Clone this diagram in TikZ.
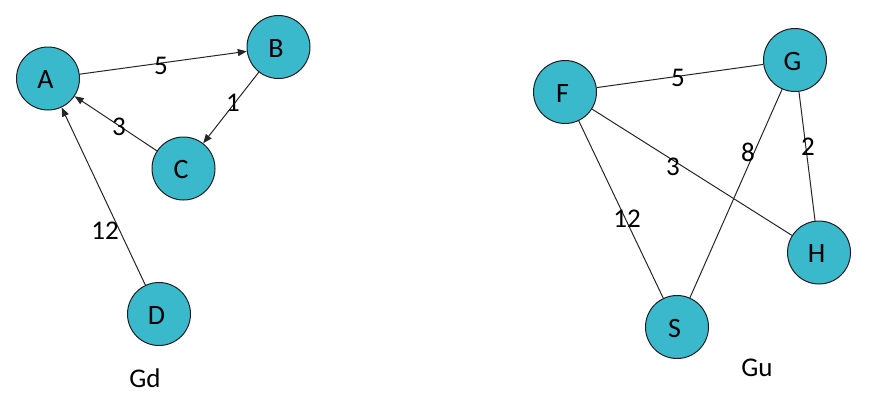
\documentclass[tikz,border=0pt]{standalone}
\usepackage{fontspec}
\setmainfont{Carlito}
\usetikzlibrary{arrows.meta}
\definecolor{nodefill}{RGB}{59,185,204}
\definecolor{nodeline}{RGB}{30,30,30}
\tikzset{
  vtx/.style={circle, draw=nodeline, line width=1pt, fill=nodefill, minimum size=63pt, inner sep=0pt, font=\fontsize{28}{32}\selectfont},
  vtxtext/.style={inner sep=0pt, font=\fontsize{28}{32}\selectfont},
  lbl/.style={inner sep=0pt, font=\fontsize{27}{31}\selectfont},
  conn/.style={draw=black!85, line width=1pt},
  arr/.style={conn, -{Triangle[length=9pt,width=7pt]}}
}
\newcommand{\vertex}[3]{%
  \node[vtx] (#1) at (#2) {};
  \node[vtxtext, xshift=-2.5pt, yshift=-1.5pt] (#1t) at (#1) {#3};
}
\begin{document}
\begin{tikzpicture}[x=1pt,y=-1pt]
\useasboundingbox (0,0) rectangle (872,400);
% Gd
\vertex{A}{48,78.5}{A}
\vertex{B}{278.5,47}{B}
\vertex{C}{183.5,168.5}{C}
\vertex{D}{159,314}{D}
\draw[arr] (A) -- (B);
\draw[arr] (B) -- (C);
\draw[arr] (C) -- (A);
\draw[arr] (D) -- (A);
\node[lbl] (l5a) at (161,66) {5};
\node[lbl] (l1) at (233,103) {1};
\node[lbl] (l3a) at (119,127) {3};
\node[lbl] (l12a) at (105,231) {12};
\node[lbl] (gd) at (145,378) {Gd};
% Gu
\vertex{F}{565,92}{F}
\vertex{G}{795,60}{G}
\vertex{H}{819,252.5}{H}
\vertex{S}{677,327}{S}
\draw[conn] (F) -- (G);
\draw[conn] (F) -- (H);
\draw[conn] (F) -- (S);
\draw[conn] (G) -- (S);
\draw[conn] (G) -- (H);
\node[lbl] (l5b) at (678,78) {5};
\node[lbl] (l3b) at (673,167) {3};
\node[lbl] (l8) at (748,152) {8};
\node[lbl] (l2) at (808,147) {2};
\node[lbl] (l12b) at (627,219) {12};
\node[lbl] (gu) at (757,368) {Gu};
\end{tikzpicture}
\end{document}
